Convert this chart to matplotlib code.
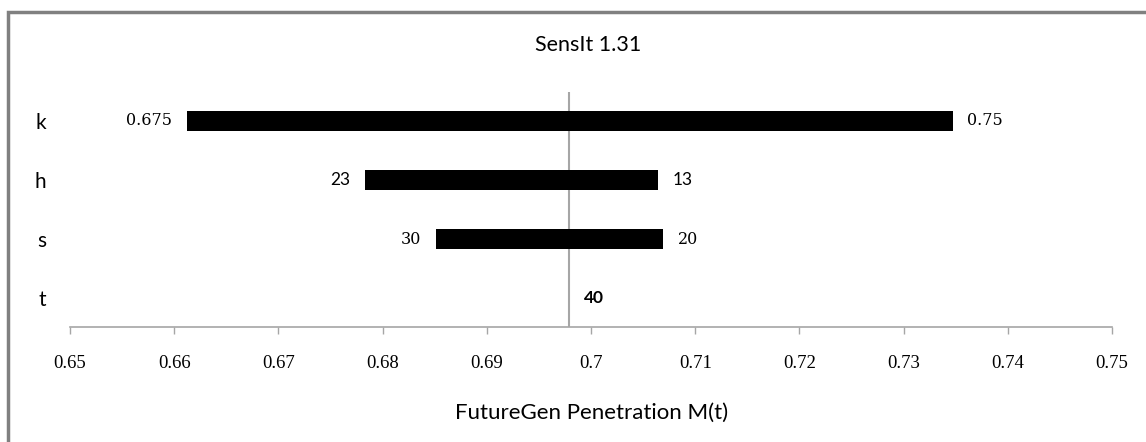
import matplotlib
matplotlib.use("Agg")
import matplotlib.pyplot as plt
from matplotlib.patches import Rectangle

# Data
categories = ["k", "h", "s", "t"]
base_value = 0.6979
low_values = [0.6612, 0.6783, 0.6851, 0.6979]
high_values = [0.7347, 0.7064, 0.7069, 0.6979]
low_labels = ["0.675", "23", "30", ""]
high_labels = ["0.75", "13", "20", "40"]
x_ticks = [0.65, 0.66, 0.67, 0.68, 0.69, 0.70, 0.71, 0.72, 0.73, 0.74, 0.75]
x_tick_labels = ["0.65", "0.66", "0.67", "0.68", "0.69", "0.7", "0.71", "0.72", "0.73", "0.74", "0.75"]
title = "SensIt 1.31"
x_label = "FutureGen Penetration M(t)"

sans = ["Lato", "DejaVu Sans"]
serif = ["Liberation Serif", "DejaVu Serif"]
wide_serif = ["DejaVu Serif"]


def label_style(txt):
    # labels that look sans in the reference vs. spaced serif ones
    if txt in ("23", "13"):
        return dict(family=sans, fontsize=12.5, fontweight="normal")
    if txt == "40":
        return dict(family=sans, fontsize=12.5, fontweight="bold")
    return dict(family=wide_serif, fontsize=11.5, fontweight="normal")


fig = plt.figure(figsize=(11.46, 4.42), dpi=100)
fig.patch.set_facecolor("white")

# outer chart border (cropped: only top and left visible)
fig.add_artist(Rectangle((8 / 1146, -0.1), 1.2, (442 - 12) / 442 + 0.1,
                         transform=fig.transFigure, fill=False,
                         edgecolor="#808080", linewidth=2.5))

ax = fig.add_axes([70 / 1146, 1 - 327 / 442, (1112 - 70) / 1146, (327 - 92) / 442])

n = len(categories)
ypos = [n - 1 - i for i in range(n)]
bar_h = 0.34

for y, lo, hi, ll, hl in zip(ypos, low_values, high_values, low_labels, high_labels):
    ax.barh(y, lo - base_value, left=base_value, height=bar_h, color="black")
    ax.barh(y, hi - base_value, left=base_value, height=bar_h, color="black")
    if ll:
        ax.annotate(ll, (lo, y), xytext=(-10.5, 0), textcoords="offset points",
                    ha="right", va="center", **label_style(ll))
    if hl:
        ax.annotate(hl, (hi, y), xytext=(10.5, 0), textcoords="offset points",
                    ha="left", va="center", **label_style(hl))

ax.axvline(base_value, color="#a6a6a6", linewidth=1.5, zorder=0)

ax.set_xlim(0.65, 0.75)
ax.set_ylim(-0.49, 3.49)
ax.set_xticks(x_ticks)
ax.set_xticklabels(x_tick_labels, family=serif, fontsize=13.5)
ax.set_yticks(ypos)
ax.set_yticklabels(categories, family=sans, fontsize=15)
ax.tick_params(axis="y", length=0, pad=17)
ax.tick_params(axis="x", length=5, width=1, color="#a6a6a6", pad=15.5, direction="out")

for s in ["top", "right", "left"]:
    ax.spines[s].set_visible(False)
ax.spines["bottom"].set_color("#a6a6a6")
ax.spines["bottom"].set_linewidth(1.2)

ax.set_xlabel(x_label, family=sans, fontsize=16, va="center")
ax.xaxis.set_label_coords((592 - 70) / 1042, (327 - 413) / 235)
fig.text(588 / 1146, 1 - 45 / 442, title, ha="center", va="center",
         family=sans, fontsize=15.5)

fig.savefig("out.png", dpi=100)
